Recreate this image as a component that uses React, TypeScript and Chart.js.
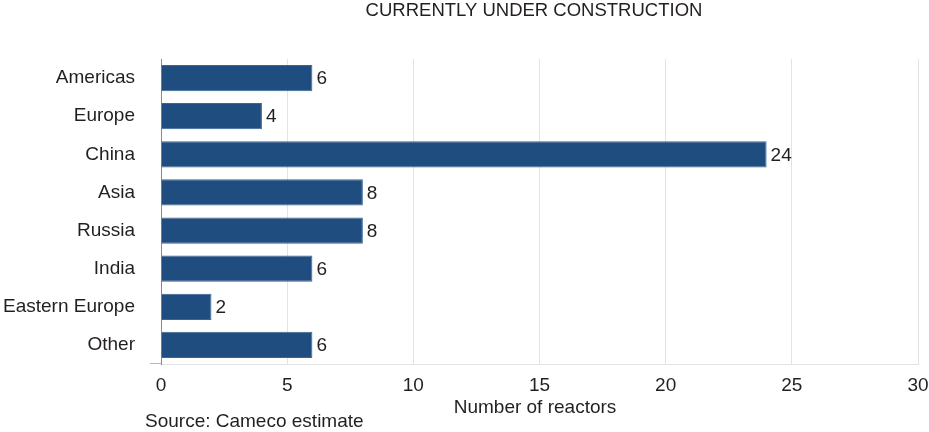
import React, { useEffect, useRef } from "react";
import { Chart, registerables } from "chart.js";

Chart.register(...registerables);

const regions = ["Americas", "Europe", "China", "Asia", "Russia", "India", "Eastern Europe", "Other"];
const reactors = [6, 4, 24, 8, 8, 6, 2, 6];
const xTicks = [0, 5, 10, 15, 20, 25, 30];
const titleText = "CURRENTLY UNDER CONSTRUCTION";
const axisTitle = "Number of reactors";
const sourceText = "Source: Cameco estimate";

const FONT = "'Liberation Sans', Arial, Helvetica, sans-serif";
const TEXT = "#231f20";

export default function App() {
  const ref = useRef<HTMLCanvasElement | null>(null);

  useEffect(() => {
    document.body.style.margin = "0";
    const canvas = ref.current;
    if (!canvas) return;

    const extras = {
      id: "extras",
      afterDatasetsDraw(chart: any) {
        const ctx = chart.ctx;
        const meta = chart.getDatasetMeta(0);
        ctx.save();
        ctx.font = `19px ${FONT}`;
        ctx.fillStyle = TEXT;
        ctx.textAlign = "left";
        ctx.textBaseline = "middle";
        meta.data.forEach((bar: any, i: number) => {
          ctx.fillText(String(reactors[i]), bar.x + 4, bar.y + 1);
        });
        ctx.restore();
      },
      afterDraw(chart: any) {
        const ctx = chart.ctx;
        const area = chart.chartArea;
        ctx.save();
        ctx.fillStyle = TEXT;
        ctx.textBaseline = "middle";
        ctx.textAlign = "center";
        ctx.font = `18.5px ${FONT}`;
        ctx.fillText(titleText, 534, 11);
        ctx.font = `19px ${FONT}`;
        ctx.fillText(axisTitle, 535, 408);
        ctx.textAlign = "left";
        ctx.fillText(sourceText, 145, 422);
        ctx.strokeStyle = "#bbbbbb";
        ctx.lineWidth = 1;
        ctx.beginPath();
        ctx.moveTo(area.left - 11, area.bottom - 0.5);
        ctx.lineTo(area.left, area.bottom - 0.5);
        ctx.stroke();
        ctx.restore();
      },
    };

    const chart = new Chart(canvas, {
      type: "bar",
      data: {
        labels: regions,
        datasets: [
          {
            data: reactors,
            backgroundColor: "#1f4d7f",
            borderColor: "#3a6594",
            borderWidth: 1,
            barPercentage: 0.72,
            categoryPercentage: 0.96,
          },
        ],
      },
      plugins: [extras],
      options: {
        indexAxis: "y",
        animation: false,
        responsive: false,
        devicePixelRatio: 1,
        layout: { padding: { left: 0, right: 11, top: 59, bottom: 0 } },
        plugins: {
          legend: { display: false },
          tooltip: { enabled: false },
          title: { display: false },
        },
        scales: {
          x: {
            type: "linear",
            min: 0,
            max: 30,
            afterBuildTicks(scale: any) {
              scale.ticks = xTicks.map((v) => ({ value: v }));
            },
            afterFit(scale: any) {
              scale.height = 68;
              scale.paddingLeft = 0;
              scale.paddingRight = 0;
            },
            grid: {
              color: (c: any) => (c.tick && c.tick.value === 0 ? "rgba(0,0,0,0)" : "#e3e3e3"),
              drawTicks: false,
              lineWidth: 1,
            },
            border: { display: true, color: "#e3e3e3" },
            ticks: {
              padding: 10,
              color: TEXT,
              font: { family: FONT, size: 19 },
            },
          },
          y: {
            afterFit(scale: any) {
              scale.width = 161;
              scale.paddingTop = 0;
              scale.paddingBottom = 0;
            },
            grid: { display: false, drawTicks: false },
            border: { display: true, color: "#8a8a8a" },
            ticks: {
              padding: 26,
              color: TEXT,
              font: { family: FONT, size: 19 },
            },
          },
        },
      },
    } as any);

    return () => chart.destroy();
  }, []);

  return (
    <div style={{ width: 929, height: 432, background: "#ffffff" }}>
      <canvas ref={ref} width={929} height={432} style={{ display: "block" }} />
    </div>
  );
}
